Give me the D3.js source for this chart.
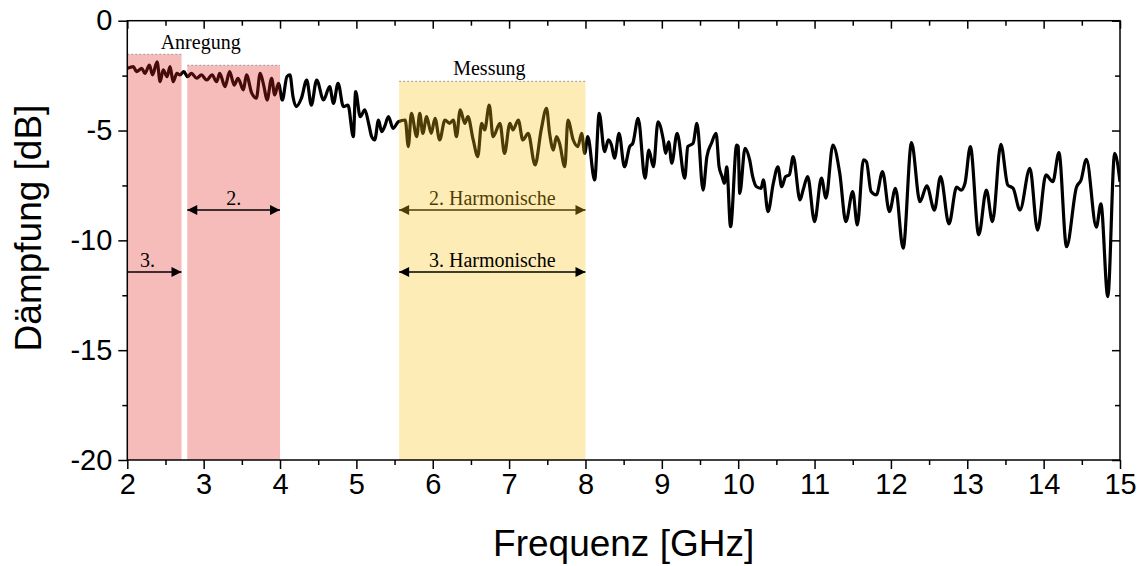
<!DOCTYPE html>
<html>
<head>
<meta charset="utf-8">
<script src="https://cdn.jsdelivr.net/npm/d3@7"></script>
<style>
  body { margin: 0; background: #fff; }
  svg { display: block; }
</style>
</head>
<body>
<svg id="chart" width="1142" height="566"></svg>
<script>
// Measured transmission loss of the filter, 2–15 GHz
const freqGHz = [
  2.00, 2.08, 2.12, 2.19, 2.23, 2.29, 2.33, 2.39, 2.43, 2.47, 2.52, 2.56, 2.60, 2.65, 2.69,
  2.74, 2.79, 2.84, 2.91, 2.97, 3.04, 3.11, 3.17, 3.21, 3.28, 3.34, 3.40, 3.45, 3.52, 3.56,
  3.63, 3.69, 3.74, 3.79, 3.83, 3.89, 3.93, 3.98, 4.03, 4.09, 4.13, 4.17, 4.21,
  4.28, 4.35, 4.41, 4.48, 4.57, 4.65, 4.70, 4.76, 4.83, 4.89, 4.96, 4.99, 5.05, 5.11, 5.16,
  5.20, 5.24, 5.29, 5.33, 5.37, 5.42, 5.48, 5.55, 5.64, 5.68, 5.72, 5.79, 5.83, 5.87, 5.92,
  5.98, 6.03, 6.09, 6.16, 6.22, 6.27, 6.31, 6.36, 6.42, 6.46, 6.53, 6.59, 6.64, 6.68, 6.74,
  6.79, 6.88, 6.94, 7.01, 7.05, 7.12, 7.18, 7.25, 7.34, 7.42, 7.49, 7.53, 7.58, 7.62, 7.66,
  7.73, 7.77, 7.84, 7.90, 7.95, 7.99,
  8.03, 8.12, 8.18, 8.25, 8.30, 8.34, 8.38, 8.44, 8.51, 8.58, 8.62, 8.69, 8.78, 8.83, 8.89,
  8.95, 9.02, 9.05, 9.09, 9.13, 9.20, 9.30, 9.34, 9.41, 9.46, 9.54, 9.59, 9.65, 9.71, 9.75,
  9.79, 9.82, 9.85, 9.90, 9.98, 10.00, 10.02, 10.09, 10.15, 10.19, 10.24, 10.30, 10.33, 10.39,
  10.46, 10.52, 10.57, 10.62, 10.67, 10.72, 10.81, 10.85, 10.91, 11.00, 11.09, 11.15, 11.24,
  11.33, 11.41, 11.50, 11.56,
  11.64, 11.68, 11.74, 11.81, 11.89, 11.98, 12.06, 12.16, 12.27, 12.38, 12.47, 12.57, 12.65,
  12.76, 12.86, 12.92, 12.97, 13.04, 13.15, 13.25, 13.33, 13.44, 13.53, 13.60, 13.69, 13.82,
  13.92, 14.03, 14.12, 14.20, 14.30, 14.43, 14.49, 14.56, 14.69, 14.75, 14.84, 14.93, 15.00
];
const dampingDb = [
  -2.17, -2.09, -2.32, -2.17, -2.40, -2.02, -2.47, -1.87, -2.78, -2.24, -2.55, -2.09, -2.78, -2.40, -2.47,
  -2.32, -2.55, -2.40, -2.62, -2.47, -2.70, -2.47, -2.78, -2.40, -3.00, -2.32, -2.93, -2.62, -3.15, -2.47,
  -3.30, -3.53, -2.40, -3.00, -3.61, -2.62, -3.38, -2.85, -3.61, -2.55, -2.47, -3.46, -3.91,
  -3.53, -2.70, -3.84, -2.70, -3.61, -3.00, -3.76, -2.85, -3.91, -3.84, -5.28, -3.23, -4.37, -4.06, -4.67,
  -5.28, -5.43, -4.52, -5.05, -4.82, -4.37, -4.90, -4.60, -4.52, -5.73, -4.22, -5.28, -4.22, -5.13, -4.37,
  -5.13, -4.44, -5.43, -4.52, -4.67, -4.52, -5.28, -4.06, -4.67, -4.37, -5.43, -6.19, -4.67, -4.97, -3.84,
  -5.28, -4.67, -6.04, -4.67, -4.97, -4.52, -5.43, -5.13, -6.57, -4.97, -3.99, -5.13, -5.89, -5.28, -5.58,
  -6.65, -4.52, -5.43, -5.73, -5.13, -6.04,
  -5.28, -7.25, -4.22, -5.96, -5.43, -5.66, -6.26, -5.13, -6.65, -5.73, -5.58, -4.44, -7.17, -5.89, -6.65,
  -4.60, -5.43, -6.04, -5.51, -6.49, -5.13, -7.17, -5.73, -5.58, -4.67, -7.71, -6.19, -5.58, -5.13, -6.65,
  -7.10, -7.40, -6.65, -9.38, -5.66, -5.73, -7.86, -5.81, -6.34, -7.10, -7.56, -7.63, -7.25, -8.69,
  -7.40, -6.65, -7.56, -7.10, -7.02, -6.19, -8.16, -7.71, -7.10, -9.15, -7.17, -8.08, -5.66,
  -6.95, -9.15, -7.78, -9.30,
  -6.34, -6.42, -7.78, -7.93, -6.87, -8.69, -7.63, -10.36, -5.55, -8.24, -7.52, -8.62, -7.10,
  -9.25, -7.58, -7.71, -7.40, -5.73, -9.75, -7.71, -9.15, -5.63, -7.48, -7.63, -8.62, -6.72,
  -9.53, -7.02, -7.33, -6.01, -10.29, -7.58, -7.25, -6.31, -9.40, -8.34, -12.56, -6.04, -7.33
];

// Axis ticks
const xTickValues = [2, 3, 4, 5, 6, 7, 8, 9, 10, 11, 12, 13, 14, 15];
const xMinorValues = [2.5, 3.5, 4.5, 5.5, 6.5, 7.5, 8.5, 9.5, 10.5, 11.5, 12.5, 13.5, 14.5];
const yTickValues = [0, -5, -10, -15, -20];
const yMinorValues = [-2.5, -7.5, -12.5, -17.5];

// Frequency bands: excitation (fundamental) and measurement window
const excitationFrom = [2.0, 2.785];
const excitationTo = [2.71, 4.0];
const excitationTop = [-1.53, -2.03];
const measurementFrom = 5.56;
const measurementTo = 8.0;
const measurementTop = -2.76;

// Harmonic range arrows (GHz) and their levels (dB)
const harmonicArrows = [
  { label: "2.", from: 2.785, to: 4.0, level: -8.62, heads: "both" },
  { label: "3.", from: 2.0, to: 2.71, level: -11.44, heads: "end" },
  { label: "2. Harmonische", from: 5.56, to: 8.0, level: -8.62, heads: "both" },
  { label: "3. Harmonische", from: 5.56, to: 8.0, level: -11.44, heads: "both" }
];

const svg = d3.select("#chart");
const plotLeft = 127.3, plotRight = 1120, plotTop = 20.7, plotBottom = 460;

const x = d3.scaleLinear().domain([2, 15]).range([plotLeft, plotRight]);
const y = d3.scaleLinear().domain([-20, 0]).range([plotBottom, plotTop]);

const defs = svg.append("defs");
defs.append("clipPath").attr("id", "plotClip")
  .append("rect").attr("x", plotLeft).attr("y", plotTop)
  .attr("width", plotRight - plotLeft).attr("height", plotBottom - plotTop);

defs.append("marker")
  .attr("id", "arrowHead")
  .attr("viewBox", "0 0 10 10")
  .attr("refX", 10).attr("refY", 5)
  .attr("markerUnits", "userSpaceOnUse")
  .attr("markerWidth", 12).attr("markerHeight", 10)
  .attr("orient", "auto-start-reverse")
  .append("path")
  .attr("d", "M0,0 L10,5 L0,10 Z")
  .attr("fill", "#000");

const plot = svg.append("g").attr("clip-path", "url(#plotClip)");

// Curve
const points = freqGHz.map((f, i) => [f, dampingDb[i]]);
const line = d3.line()
  .x(d => x(d[0]))
  .y(d => y(d[1]))
  .curve(d3.curveMonotoneX);

plot.append("path")
  .datum(points)
  .attr("d", line)
  .attr("fill", "none")
  .attr("stroke", "#000")
  .attr("stroke-width", 3.2)
  .attr("stroke-linejoin", "round");

const serif = "'Liberation Serif', 'Times New Roman', serif";
const sans = "'Liberation Sans', Arial, Helvetica, sans-serif";

function drawArrow(g, a) {
  const ln = g.append("line")
    .attr("x1", x(a.from)).attr("x2", x(a.to))
    .attr("y1", y(a.level)).attr("y2", y(a.level))
    .attr("stroke", "#000").attr("stroke-width", 1.5)
    .attr("marker-end", "url(#arrowHead)");
  if (a.heads === "both") ln.attr("marker-start", "url(#arrowHead)");
  g.append("text")
    .attr("x", (x(a.from) + x(a.to)) / 2 + (a.heads === "end" ? -7 : 0))
    .attr("y", y(a.level) - 5)
    .attr("text-anchor", "middle")
    .attr("font-family", serif)
    .attr("font-size", 20)
    .attr("fill", "#000")
    .text(a.label);
}

// The 2nd-harmonic label of the measurement window sits beneath the band shading
const underlay = svg.append("g");
drawArrow(underlay, harmonicArrows[2]);

// Translucent band shading
const bands = svg.append("g");
excitationFrom.forEach((f, i) => {
  bands.append("rect")
    .attr("x", x(f)).attr("width", x(excitationTo[i]) - x(f))
    .attr("y", y(excitationTop[i])).attr("height", plotBottom - y(excitationTop[i]))
    .attr("fill", "rgb(222,40,30)").attr("fill-opacity", 0.31);
  bands.append("line")
    .attr("x1", x(f)).attr("x2", x(excitationTo[i]))
    .attr("y1", y(excitationTop[i])).attr("y2", y(excitationTop[i]))
    .attr("stroke", "#9a9a9a").attr("stroke-width", 1)
    .attr("stroke-dasharray", "2,2");
});
bands.append("rect")
  .attr("x", x(measurementFrom)).attr("width", x(measurementTo) - x(measurementFrom))
  .attr("y", y(measurementTop)).attr("height", plotBottom - y(measurementTop))
  .attr("fill", "rgb(248,194,16)").attr("fill-opacity", 0.31);
bands.append("line")
  .attr("x1", x(measurementFrom)).attr("x2", x(measurementTo))
  .attr("y1", y(measurementTop)).attr("y2", y(measurementTop))
  .attr("stroke", "#9a9a9a").attr("stroke-width", 1)
  .attr("stroke-dasharray", "2,2");

// Band titles
bands.append("text")
  .attr("x", x(3.0) - 3).attr("y", y(excitationTop[0]) - 5)
  .attr("text-anchor", "middle")
  .attr("font-family", serif).attr("font-size", 20)
  .text("Anregung");
bands.append("text")
  .attr("x", (x(measurementFrom) + x(measurementTo)) / 2 - 3).attr("y", y(measurementTop) - 6)
  .attr("text-anchor", "middle")
  .attr("font-family", serif).attr("font-size", 20)
  .text("Messung");

const overlay = svg.append("g");
[0, 1, 3].forEach(i => drawArrow(overlay, harmonicArrows[i]));

// Axes
const plainNumber = d => String(d);
function styleAxis(g) {
  g.select(".domain").remove();
  g.selectAll(".tick line").attr("stroke", "#000").attr("stroke-width", 1.5);
  g.selectAll(".tick text")
    .attr("font-family", sans).attr("font-size", 29).attr("fill", "#000");
}

svg.append("g").attr("transform", `translate(0,${plotBottom})`)
  .call(d3.axisBottom(x).tickValues(xTickValues).tickSize(9).tickPadding(4).tickFormat(plainNumber))
  .call(styleAxis);
svg.append("g").attr("transform", `translate(0,${plotBottom})`)
  .call(d3.axisBottom(x).tickValues(xMinorValues).tickSize(5).tickFormat(""))
  .call(styleAxis);
svg.append("g").attr("transform", `translate(0,${plotTop})`)
  .call(d3.axisTop(x).tickValues(xTickValues).tickSize(-8).tickFormat(""))
  .call(styleAxis);
svg.append("g").attr("transform", `translate(0,${plotTop})`)
  .call(d3.axisTop(x).tickValues(xMinorValues).tickSize(-5).tickFormat(""))
  .call(styleAxis);

svg.append("g").attr("transform", `translate(${plotLeft},0)`)
  .call(d3.axisLeft(y).tickValues(yTickValues).tickSize(9).tickPadding(6).tickFormat(plainNumber))
  .call(styleAxis);
svg.append("g").attr("transform", `translate(${plotLeft},0)`)
  .call(d3.axisLeft(y).tickValues(yMinorValues).tickSize(5).tickFormat(""))
  .call(styleAxis);
svg.append("g").attr("transform", `translate(${plotRight},0)`)
  .call(d3.axisRight(y).tickValues(yTickValues).tickSize(-8).tickFormat(""))
  .call(styleAxis);
svg.append("g").attr("transform", `translate(${plotRight},0)`)
  .call(d3.axisRight(y).tickValues(yMinorValues).tickSize(-5).tickFormat(""))
  .call(styleAxis);

// Frame
svg.append("rect")
  .attr("x", plotLeft).attr("y", plotTop)
  .attr("width", plotRight - plotLeft).attr("height", plotBottom - plotTop)
  .attr("fill", "none").attr("stroke", "#000").attr("stroke-width", 1.5);

// Axis titles
svg.append("text")
  .attr("x", (plotLeft + plotRight) / 2).attr("y", 556)
  .attr("text-anchor", "middle")
  .attr("font-family", sans).attr("font-size", 37)
  .text("Frequenz [GHz]");
svg.append("text")
  .attr("transform", "translate(41,228) rotate(-90)")
  .attr("text-anchor", "middle")
  .attr("font-family", sans).attr("font-size", 37)
  .text("Dämpfung [dB]");
</script>
</body>
</html>
